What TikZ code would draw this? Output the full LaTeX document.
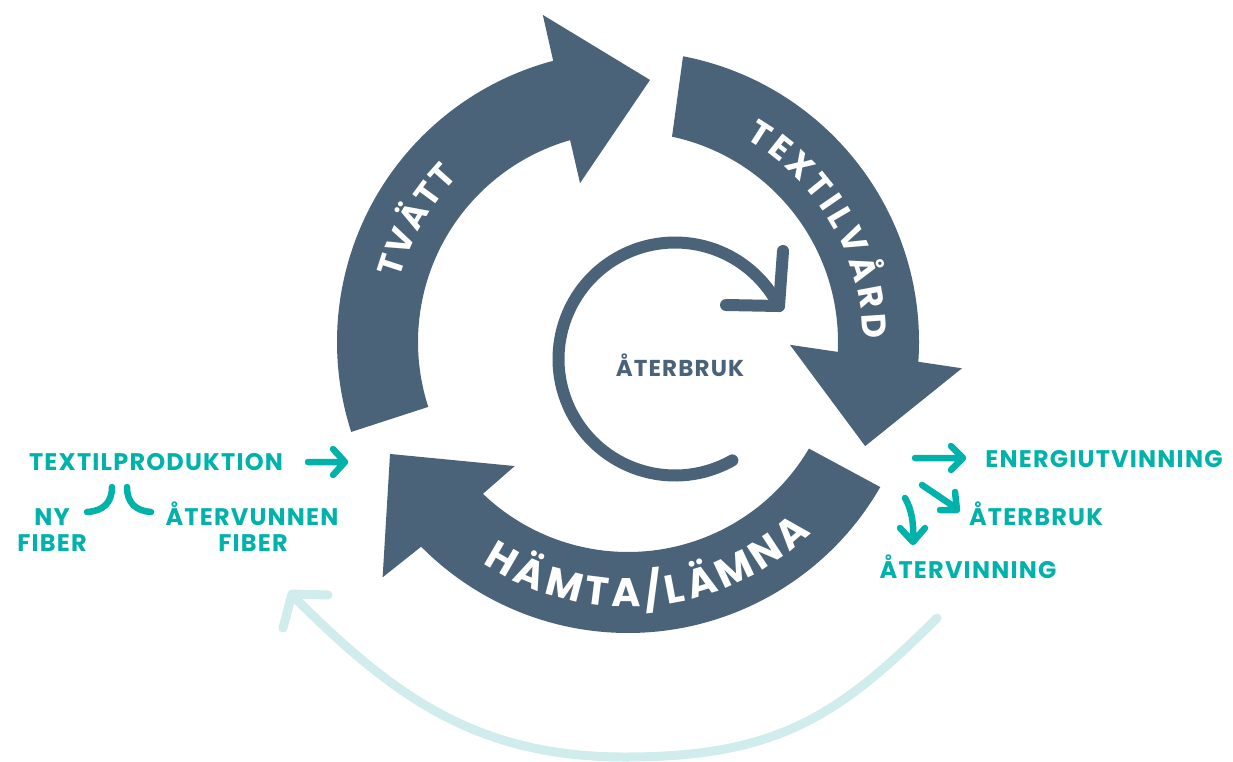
\documentclass[tikz,border=0pt]{standalone}
\usepackage{fontspec}
\newfontfamily\pf[LetterSpace=5]{Poppins}
\newfontfamily\pfarc{Poppins}
\usetikzlibrary{decorations.text}
\definecolor{slate}{HTML}{4B6378}
\definecolor{tealc}{HTML}{00B2AA}
\definecolor{lightc}{HTML}{D0ECEC}
\newcommand\arcfontA{\pfarc\bfseries\fontsize{34}{34}\selectfont\color{white}}
\newcommand\arcfontB{\pfarc\bfseries\fontsize{40}{40}\selectfont\color{white}}
\begin{document}
\begin{tikzpicture}[x=1pt,y=1pt,
  bigarrow/.style={fill=slate, draw=none},
  tealtext/.style={text=tealc, font=\pf\bfseries\fontsize{24}{24}\selectfont, anchor=base, inner sep=0pt},
  tealline/.style={draw=tealc, line width=6.5pt, line cap=round, line join=round},
  lightline/.style={draw=lightc, line width=9pt, line cap=round, line join=round},
  loopline/.style={draw=slate, line width=12pt, line cap=round, line join=round}]
\useasboundingbox (0,0) rectangle (1233,-762);

% light return arc
\draw[lightline] (937,-618) .. controls (837,-718) and (775,-757) .. (625,-757)
  .. controls (475,-757) and (392,-695) .. (292,-595);
\draw[lightline] (328,-595) -- (292,-594) -- (283,-628);

\begin{scope}[shift={(628,-342)}]
% TVATT
\fill[bigarrow] (198:291) arc[start angle=198, end angle=104.9, radius=291pt]
  -- (104.6:338) -- (85.2:263) -- (106.8:166) -- (106:210)
  arc[start angle=106, end angle=198, radius=210pt] -- cycle;
% TEXTILVARD
\fill[bigarrow] (79.1:291) arc[start angle=79.1, end angle=-3.9, radius=291pt]
  -- (-4.5:335) -- (-23.7:259) -- (-1:162) -- (-2.7:210)
  arc[start angle=-2.7, end angle=77.9, radius=210pt] -- cycle;
% HAMTA/LAMNA
\fill[bigarrow] (-29.9:291) arc[start angle=-29.9, end angle=-135.3, radius=291pt]
  -- (-136.2:340) -- (-154.8:263) -- (-132.4:168) -- (-133.7:210)
  arc[start angle=-133.7, end angle=-30.5, radius=210pt] -- cycle;

\path[decorate, decoration={text along path, text={|\arcfontA|TVÄTT}, text align={fit to path}}]
  (164.4:237) arc[start angle=164.4, end angle=135.9, radius=237pt];
\path[decorate, decoration={text along path, text={|\arcfontA|TEXTILVÅRD}, text align={fit to path}}]
  (59.9:235) arc[start angle=59.9, end angle=0.8, radius=235pt];
\path[decorate, decoration={text along path, text={|\arcfontB|HÄMTA/LÄMNA}, text align={fit to path}}]
  (236.7:265) arc[start angle=236.7, end angle=313.9, radius=265pt];
\end{scope}

% inner reuse loop
\draw[loopline] (675,-359) ++(-60.5:116.5) arc[start angle=-60.5, end angle=-333, radius=116.5pt];
\draw[loopline] (783,-251) -- (779,-306) -- (726,-305);
\node[font=\pf\bfseries\fontsize{23}{23}\selectfont, text=slate, anchor=base, inner sep=0pt] (center) at (680,-376) {ÅTERBRUK};

% left texts
\node[tealtext] (prod) at (156,-470) {TEXTILPRODUKTION};
\node[tealtext] (ny) at (52,-525) {NY};
\node[tealtext] (nyfiber) at (52,-551) {FIBER};
\node[tealtext] (atv) at (252,-525) {ÅTERVUNNEN};
\node[tealtext] (atvfiber) at (253,-551) {FIBER};
\draw[tealline] (308,-462) -- (345,-462) (333,-449) -- (345,-462) -- (333,-475);
\draw[tealline] (112,-487) .. controls (112,-503) and (103,-511) .. (87,-512);
\draw[tealline] (127,-487) .. controls (127,-503) and (136,-511) .. (151,-512);

% right texts
\node[tealtext] (energi) at (1104,-467) {ENERGIUTVINNING};
\node[tealtext] (aterbruk) at (1036,-525) {ÅTERBRUK};
\node[tealtext] (atervinning) at (968,-578) {ÅTERVINNING};
\draw[tealline] (915,-458) -- (962,-458) (951,-446) -- (963,-458) -- (951,-470);
\draw[tealline] (922,-485) -- (956,-508) (955,-492) -- (957,-510) -- (940,-510);
\draw[tealline] (905,-498) .. controls (912,-510) and (914,-525) .. (913,-540)
  (900,-528) -- (913,-542) -- (925,-528);
\end{tikzpicture}
\end{document}
